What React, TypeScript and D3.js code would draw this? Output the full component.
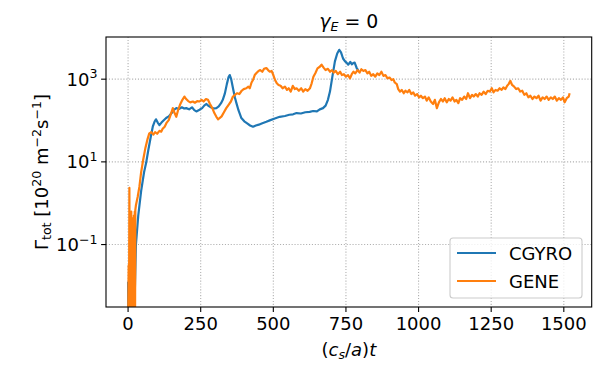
import * as d3 from "d3";

const cgyroT = [0, 1, 18, 22, 27, 35, 45, 55, 62, 70, 78, 85, 91, 96, 102, 108, 115, 122, 131, 140, 150, 158, 166, 175, 185, 193, 200, 210, 220, 228, 235, 246, 255, 262, 269, 278, 288, 296, 304, 312, 320, 326, 333, 340, 346, 350, 355, 362, 368, 373, 380, 390, 400, 410, 420, 430, 440, 450, 460, 476, 490, 505, 522, 540, 555, 568, 580, 595, 610, 625, 637, 650, 660, 671, 680, 688, 695, 703, 712, 720, 727, 733, 740, 747, 752, 758, 765, 770, 775, 780, 787, 792];
const cgyroLog = [-1.9, -3, -3, -2.5, -1.0, -0.3, 0.3, 0.75, 0.97, 1.3, 1.6, 1.85, 1.97, 2.03, 1.95, 1.89, 1.95, 2.0, 2.06, 2.1, 2.18, 2.26, 2.3, 2.28, 2.32, 2.29, 2.3, 2.27, 2.32, 2.25, 2.22, 2.26, 2.3, 2.36, 2.4, 2.35, 2.31, 2.29, 2.3, 2.34, 2.42, 2.5, 2.65, 2.88, 3.05, 3.1, 3.0, 2.75, 2.55, 2.42, 2.25, 2.06, 1.98, 1.93, 1.88, 1.85, 1.88, 1.9, 1.93, 1.97, 2.01, 2.05, 2.09, 2.11, 2.14, 2.15, 2.18, 2.17, 2.2, 2.21, 2.23, 2.22, 2.27, 2.3, 2.36, 2.5, 2.7, 3.05, 3.43, 3.62, 3.71, 3.65, 3.5, 3.43, 3.4, 3.35, 3.42, 3.36, 3.39, 3.4, 3.27, 3.22];

const geneT = [0, 2, 3, 4.5, 6, 8, 9, 11, 12, 14, 15, 17, 18, 20, 21, 23, 24, 25, 27, 33, 39, 45, 52, 60, 67, 73, 80, 87, 93, 100, 108, 114, 119, 126, 133, 140, 147, 154, 160, 166, 172, 180, 187, 194, 200, 207, 214, 223, 230, 238, 246, 253, 260, 268, 275, 282, 290, 297, 304, 310, 315, 322, 330, 338, 346, 354, 361, 368, 375, 383, 391, 398, 407, 414, 419, 425, 430, 436, 442, 449, 455, 462, 468, 476, 482, 488, 494, 500, 506, 512, 518, 525, 532, 540, 547, 553, 560, 567, 574, 580, 588, 596, 603, 610, 618, 626, 632, 638, 645, 652, 660, 666, 673, 680, 688, 695, 702, 708, 715, 722, 730, 736, 743, 750, 757, 764, 770, 776, 782, 790, 797, 803, 810, 817, 824, 830, 837, 844, 851, 858, 865, 872, 879, 886, 893, 900, 907, 913, 918, 925, 930, 936, 942, 949, 955, 962, 968, 975, 982, 988, 995, 1002, 1008, 1015, 1022, 1028, 1035, 1042, 1050, 1056, 1063, 1070, 1077, 1084, 1090, 1097, 1104, 1110, 1117, 1124, 1130, 1137, 1143, 1150, 1157, 1164, 1170, 1177, 1184, 1190, 1197, 1204, 1210, 1217, 1224, 1231, 1238, 1245, 1252, 1258, 1265, 1272, 1279, 1286, 1292, 1299, 1305, 1310, 1316, 1322, 1329, 1336, 1343, 1350, 1357, 1364, 1371, 1378, 1385, 1392, 1399, 1406, 1413, 1420, 1427, 1434, 1441, 1448, 1455, 1462, 1469, 1476, 1483, 1490, 1497, 1503, 1510, 1517, 1520];
const geneLog = [-3, -1.5, -3, 0.37, -3, -0.6, -3, -0.2, -3, -0.36, -3, -0.5, -3, -0.3, -3, -0.2, -2.8, -0.16, -0.05, 0.15, 0.4, 0.75, 1.05, 1.35, 1.55, 1.69, 1.72, 1.66, 1.72, 1.68, 1.75, 1.73, 1.8, 1.85, 1.95, 2.01, 2.15, 2.3, 2.18, 2.09, 2.25, 2.4, 2.5, 2.58, 2.52, 2.47, 2.44, 2.46, 2.43, 2.47, 2.46, 2.5, 2.46, 2.52, 2.5, 2.4, 2.3, 2.18, 2.09, 2.03, 2.06, 2.1, 2.2, 2.3, 2.38, 2.46, 2.58, 2.62, 2.66, 2.64, 2.72, 2.76, 2.78, 2.82, 2.78, 2.92, 2.98, 3.1, 3.15, 3.2, 3.22, 3.18, 3.25, 3.27, 3.22, 3.18, 3.2, 3.1, 2.98, 2.9, 2.86, 2.84, 2.78, 2.82, 2.74, 2.78, 2.7, 2.84, 2.76, 2.78, 2.72, 2.78, 2.7, 2.76, 2.72, 2.78, 2.9, 3.06, 3.15, 3.26, 3.3, 3.35, 3.28, 3.22, 3.25, 3.18, 3.22, 3.16, 3.2, 3.12, 3.18, 3.1, 3.12, 3.06, 3.1, 3.02, 3.12, 3.18, 3.14, 3.22, 3.16, 3.24, 3.2, 3.22, 3.14, 3.18, 3.08, 3.12, 3.06, 3.14, 3.1, 3.18, 3.08, 3.1, 3.02, 3.04, 2.98, 3.0, 2.92, 2.88, 2.76, 2.7, 2.74, 2.66, 2.72, 2.68, 2.74, 2.64, 2.68, 2.6, 2.64, 2.56, 2.6, 2.54, 2.58, 2.48, 2.56, 2.46, 2.4, 2.5, 2.3, 2.44, 2.52, 2.46, 2.54, 2.44, 2.52, 2.48, 2.56, 2.46, 2.5, 2.42, 2.54, 2.5, 2.58, 2.52, 2.66, 2.54, 2.62, 2.58, 2.64, 2.58, 2.66, 2.62, 2.7, 2.64, 2.72, 2.7, 2.78, 2.68, 2.74, 2.72, 2.78, 2.74, 2.8, 2.76, 2.84, 2.88, 2.96, 2.86, 2.82, 2.76, 2.78, 2.7, 2.72, 2.62, 2.66, 2.56, 2.6, 2.52, 2.58, 2.54, 2.6, 2.48, 2.56, 2.52, 2.58, 2.5, 2.56, 2.52, 2.58, 2.48, 2.54, 2.5, 2.56, 2.44, 2.54, 2.58, 2.66, 2.62];

const xTicks = [0, 250, 500, 750, 1000, 1250, 1500];
const yTickExps = [-1, 1, 3];
const seriesNames = ["CGYRO", "GENE"];
const seriesColors = ["#1f77b4", "#ff7f0e"];

const W = 612;
const H = 368;
const left = 106, right = 591.7, top = 37, bottom = 307;
const font = "'DejaVu Sans', sans-serif";
const fs = 18;
const sub = fs * 0.7;

export default function App() {
  const x = d3.scaleLinear([-76, 1596], [left, right]);
  const y = d3.scaleLog([Math.pow(10, -2.51), Math.pow(10, 4.02)], [bottom, top]);

  const line = d3.line<[number, number]>()
    .x(d => x(d[0]))
    .y(d => y(d[1]));

  const series = [
    cgyroT.map((t, i) => [t, Math.pow(10, cgyroLog[i])] as [number, number]),
    geneT.map((t, i) => [t, Math.pow(10, geneLog[i])] as [number, number]),
  ];

  const minus = (n: number) => (n < 0 ? "\u2212" + Math.abs(n) : String(n));

  return (
    <svg width={W} height={H} viewBox={`0 0 ${W} ${H}`}
      style={{ position: "absolute", left: 0, top: 0, fontFamily: font }}>
      <rect width={W} height={H} fill="white" />
      <defs>
        <clipPath id="plot">
          <rect x={left} y={top} width={right - left} height={bottom - top} />
        </clipPath>
      </defs>

      {/* grid */}
      <g stroke="#b0b0b0" strokeWidth={1.1} strokeDasharray="1.1 1.8">
        {xTicks.map(t => (
          <line key={"gx" + t} x1={x(t)} x2={x(t)} y1={top} y2={bottom} />
        ))}
        {yTickExps.map(e => (
          <line key={"gy" + e} x1={left} x2={right} y1={y(Math.pow(10, e))} y2={y(Math.pow(10, e))} />
        ))}
      </g>

      {/* data */}
      <g clipPath="url(#plot)" fill="none" strokeWidth={2.2} strokeLinejoin="round">
        {series.map((d, i) => (
          <path key={i} d={line(d) ?? ""} stroke={seriesColors[i]} />
        ))}
      </g>

      {/* frame */}
      <rect x={left} y={top} width={right - left} height={bottom - top}
        fill="none" stroke="black" strokeWidth={1.1} />

      {/* x axis */}
      {xTicks.map(t => (
        <g key={"xt" + t}>
          <line x1={x(t)} x2={x(t)} y1={bottom} y2={bottom + 4.9} stroke="black" strokeWidth={1.1} />
          <text x={x(t)} y={330} textAnchor="middle" fontSize={fs}>{t}</text>
        </g>
      ))}
      <text x={(left + right) / 2} y={356} textAnchor="middle" fontSize={fs}>
        (<tspan fontStyle="italic">c</tspan>
        <tspan fontStyle="italic" fontSize={sub} dy={3}>s</tspan>
        <tspan dy={-3}>/</tspan>
        <tspan fontStyle="italic">a</tspan>)
        <tspan fontStyle="italic">t</tspan>
      </text>

      {/* y axis */}
      {yTickExps.map(e => {
        const yy = y(Math.pow(10, e));
        return (
          <g key={"yt" + e}>
            <line x1={left - 4.9} x2={left} y1={yy} y2={yy} stroke="black" strokeWidth={1.1} />
            <text x={left - 8.5} y={yy + 6.5} textAnchor="end" fontSize={fs}>
              10<tspan fontSize={sub} dy={-7.5}>{minus(e)}</tspan>
            </text>
          </g>
        );
      })}
      <text transform={`translate(48,${(top + bottom) / 2}) rotate(-90)`} textAnchor="middle" fontSize={fs}>
        Γ<tspan fontSize={sub} dy={3}>tot</tspan>
        <tspan dy={-3}> [10</tspan>
        <tspan fontSize={sub} dy={-7.5}>20</tspan>
        <tspan dy={7.5}> m</tspan>
        <tspan fontSize={sub} dy={-7.5}>{"\u22122"}</tspan>
        <tspan dy={7.5}>s</tspan>
        <tspan fontSize={sub} dy={-7.5}>{"\u22121"}</tspan>
        <tspan dy={7.5}>]</tspan>
      </text>

      {/* title */}
      <text x={(left + right) / 2} y={28} textAnchor="middle" fontSize={fs * 1.05}>
        <tspan fontStyle="italic">γ</tspan>
        <tspan fontStyle="italic" fontSize={sub} dy={3}>E</tspan>
        <tspan dy={-3}> = 0</tspan>
      </text>

      {/* legend */}
      <rect x={450} y={238} width={132} height={60} rx={3} fill="white" fillOpacity={0.8} stroke="#cccccc" strokeWidth={1.1} />
      {seriesNames.map((name, i) => {
        const ly = 253 + i * 28;
        return (
          <g key={name}>
            <line x1={457} x2={496} y1={ly} y2={ly} stroke={seriesColors[i]} strokeWidth={2.2} />
            <text x={509} y={ly + 6.5} fontSize={fs}>{name}</text>
          </g>
        );
      })}
    </svg>
  );
}
